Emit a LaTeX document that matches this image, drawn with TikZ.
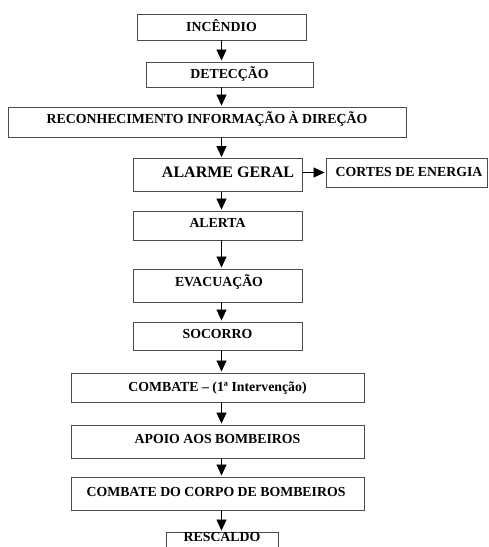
\documentclass[tikz,border=0pt]{standalone}
\usepackage{fontspec}
\setmainfont{Liberation Serif}
\usetikzlibrary{arrows.meta}
\begin{document}
\begin{tikzpicture}[x=1pt,y=-1pt,
 box/.style={draw=black!70, line width=0.9pt, inner sep=0pt,
   font=\fontsize{13.8}{14}\selectfont\bfseries, text height=9.2pt},
 arr/.style={line width=0.8pt, -{Triangle[length=11pt,width=10pt]}, shorten >=1pt}]
\clip (0,0) rectangle (489,547);
\fill[white] (0,0) rectangle (489,547);
\coordinate (ax) at (221.5,0);
\node[box, minimum width=169pt, minimum height=26pt, text depth=0pt] (inc) at (221.5,27) {INCÊNDIO};
\node[box, minimum width=167pt, minimum height=25pt, text depth=1pt] (det) at (229.5,74.5) {DETECÇÃO};
\node[box, minimum width=398pt, minimum height=30pt, text depth=6pt] (rec) at (207,122) {RECONHECIMENTO INFORMAÇÃO À DIREÇÃO};
\node[box, minimum width=169pt, minimum height=33pt, text depth=5pt, text height=10.6pt,
  font=\fontsize{16}{17}\selectfont\bfseries] (ala) at (217.5,175) {\hspace*{21pt}ALARME GERAL};
\node[box, minimum width=161pt, minimum height=29pt, text depth=1pt] (cor) at (406.5,172.5) {\hspace*{5pt}CORTES DE ENERGIA};
\node[box, minimum width=169pt, minimum height=29pt, text depth=5pt] (ale) at (217.5,225.5) {ALERTA};
\node[box, minimum width=169pt, minimum height=33pt, text depth=7pt] (eva) at (217.5,285.5) {\hspace*{3pt}EVACUAÇÃO};
\node[box, minimum width=169pt, minimum height=28pt, text depth=4pt] (soc) at (217.5,336) {SOCORRO};
\node[box, minimum width=293pt, minimum height=29pt, text depth=1pt] (com) at (217.5,387.5) {COMBATE – (1ª Intervenção)};
\node[box, minimum width=293pt, minimum height=33pt, text depth=5pt] (apo) at (217.5,441.5) {APOIO AOS BOMBEIROS};
\node[box, minimum width=293pt, minimum height=33pt, text depth=3pt] (cbb) at (217.5,493.5) {COMBATE DO CORPO DE BOMBEIROS\hspace*{3pt}};
\node[box, minimum width=112pt, minimum height=30pt, text depth=20pt] (res) at (222,547) {RESCALDO};
\draw[arr] (inc.south -| ax) -- (det.north -| ax);
\draw[arr] (det.south -| ax) -- (rec.north -| ax);
\draw[arr] (rec.south -| ax) -- (ala.north -| ax);
\draw[arr] (ala.south -| ax) -- (ale.north -| ax);
\draw[arr] (ale.south -| ax) -- (eva.north -| ax);
\draw[arr] (eva.south -| ax) -- (soc.north -| ax);
\draw[arr] (soc.south -| ax) -- (com.north -| ax);
\draw[arr] (com.south -| ax) -- (apo.north -| ax);
\draw[arr] (apo.south -| ax) -- (cbb.north -| ax);
\draw[arr] (cbb.south -| ax) -- (res.north -| ax);
\draw[arr] (ala.east |- cor.center) -- (cor.west);
\end{tikzpicture}
\end{document}
